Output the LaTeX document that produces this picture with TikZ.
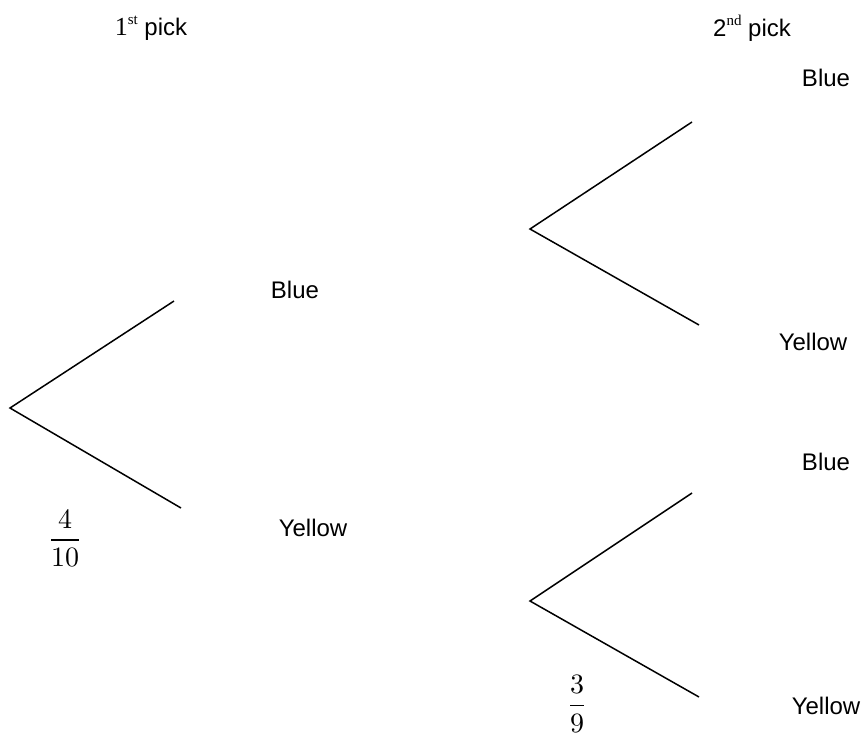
\documentclass[tikz,border=0pt]{standalone}
\usepackage{fontspec}
\setmainfont{Liberation Sans}
\newfontfamily\supserif{Liberation Serif}
\usepackage{unicode-math}
\setmathfont{Latin Modern Math}
\begin{document}
\begin{tikzpicture}[x=1pt,y=-1pt,
  branch/.style={draw=black,line width=1.5pt},
  lab/.style={font=\fontsize{24}{28}\selectfont,inner sep=0pt},
  frac/.style={font=\fontsize{28}{33}\selectfont,inner sep=0pt}]
\useasboundingbox (0,0) rectangle (867,737);

% headers
\node[lab] (h1) at (151,28) {{\supserif\fontsize{26}{30}\selectfont 1}\raisebox{0.45em}{\supserif\fontsize{15}{17}\selectfont st} pick};
\node[lab] (h2) at (752,28) {2\raisebox{0.45em}{\supserif\fontsize{15}{17}\selectfont nd} pick};

% first pick
\coordinate (r) at (10,408);
\coordinate (b1) at (174,301);
\coordinate (y1) at (181,508);
\draw[branch] (b1) -- (r) -- (y1);
\node[lab] (lb1) at (295,290) {Blue};
\node[lab] (ly1) at (313,528) {Yellow};
\node[frac] (f1) at (65,538) {$\dfrac{4}{10}$};

% second pick after blue
\coordinate (r2) at (530,229);
\coordinate (b2) at (692,122);
\coordinate (y2) at (699,325);
\draw[branch] (b2) -- (r2) -- (y2);
\node[lab] (lb2) at (826,78) {Blue};
\node[lab] (ly2) at (813,342) {Yellow};

% second pick after yellow
\coordinate (r3) at (530,601);
\coordinate (b3) at (692,493);
\coordinate (y3) at (699,697);
\draw[branch] (b3) -- (r3) -- (y3);
\node[lab] (lb3) at (826,462) {Blue};
\node[lab] (ly3) at (826,706) {Yellow};
\node[frac] (f3) at (577,704) {$\dfrac{3}{9}$};
\end{tikzpicture}
\end{document}
